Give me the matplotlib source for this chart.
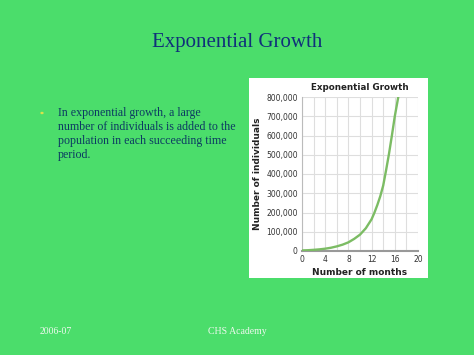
import matplotlib.pyplot as plt
from matplotlib.patches import Rectangle, Circle

# values
months = [0, 1, 2, 3, 4, 5, 6, 7, 8, 9, 10, 11, 12, 12.5, 13, 13.5, 14, 14.5,
          15, 15.5, 16, 16.6]
individuals = [3000, 4000, 6000, 8500, 12000, 17000, 24000, 33000, 45000, 63000,
               85000, 118000, 165000, 200000, 240000, 285000, 340000, 420000,
               505000, 600000, 700000, 800000]
x_ticks = [0, 4, 8, 12, 16, 20]
y_ticks = [0, 100000, 200000, 300000, 400000, 500000, 600000, 700000, 800000]

bullet_lines = ["In exponential growth, a large",
                "number of individuals is added to the",
                "population in each succeeding time",
                "period."]

W, H = 474, 355
bg = "#4bdd6b"
fig = plt.figure(figsize=(W / 100, H / 100), dpi=100, facecolor=bg)


def fx(px):
    return px / W


def fy(py):
    return 1 - py / H


# white chart panel
fig.patches.append(Rectangle((fx(249), fy(278)), fx(428) - fx(249), fy(78) - fy(278),
                             transform=fig.transFigure, facecolor="white",
                             edgecolor="none", zorder=-5))

# slide title and text
fig.text(0.5, fy(43), "Exponential Growth", ha="center", va="center",
         family="Liberation Serif", fontsize=15, color="#10307a")
fig.patches.append(Circle((fx(42), fy(113)), 0.0035, transform=fig.transFigure,
                          facecolor="#d9e24a", edgecolor="none"))
for i, line in enumerate(bullet_lines):
    fig.text(fx(58), fy(113 + 14 * i), line, ha="left", va="center",
             family="Liberation Serif", fontsize=8.6, color="#0c3a62")

fig.text(fx(56), fy(332), "2006-07", ha="center", va="center",
         family="Liberation Serif", fontsize=7, color="#eef8ee")
fig.text(fx(237), fy(332), "CHS Academy", ha="center", va="center",
         family="Liberation Serif", fontsize=7, color="#eef8ee")

# chart
ax = fig.add_axes([fx(302), fy(251), fx(418) - fx(302), fy(97) - fy(251)])
ax.set_facecolor("white")
ax.plot(months, individuals, color="#7cbc64", lw=1.7, solid_capstyle="round",
        solid_joinstyle="round", zorder=3)
ax.set_xlim(0, 20)
ax.set_ylim(0, 800000)
ax.set_xticks(x_ticks)
ax.set_xticks(range(0, 21, 2), minor=True)
ax.set_yticks(y_ticks)
ax.set_yticklabels([f"{v:,}" for v in y_ticks])
ax.grid(True, which="both", color="#dedede", lw=0.8)
ax.set_axisbelow(True)
ax.tick_params(which="both", length=0, labelsize=5.5, labelcolor="#333333", pad=3)
for s in ["top", "right"]:
    ax.spines[s].set_visible(False)
ax.spines["left"].set_color("#bbbbbb")
ax.spines["bottom"].set_color("#999999")
ax.spines["bottom"].set_linewidth(1.5)
ax.set_title("Exponential Growth", fontsize=6.3, fontweight="bold", color="#222222", pad=5)
ax.set_xlabel("Number of months", fontsize=6.5, fontweight="bold", color="#222222", labelpad=3)
ax.set_ylabel("Number of individuals", fontsize=6.5, fontweight="bold", color="#222222", labelpad=3)

fig.savefig("out.png", dpi=100, facecolor=bg)
